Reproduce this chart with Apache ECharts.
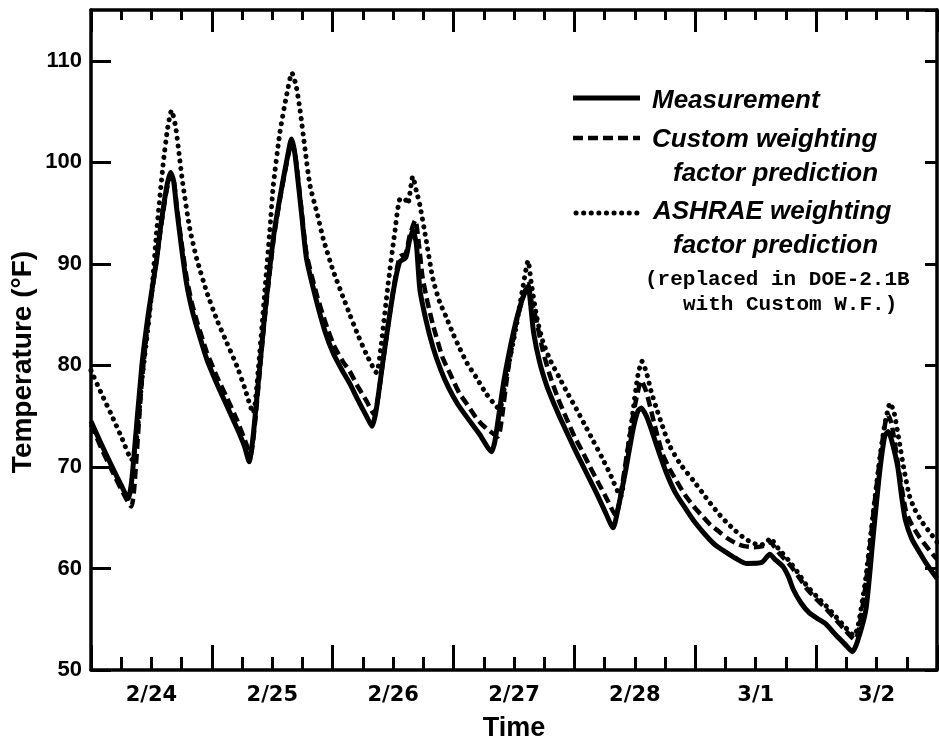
<!DOCTYPE html>
<html>
<head>
<meta charset="utf-8">
<script src="https://cdn.jsdelivr.net/npm/echarts@6/dist/echarts.min.js"></script>
<style>
html, body { margin: 0; padding: 0; background: #fff; }
#chart { width: 939px; height: 747px; }
</style>
</head>
<body>
<div id="chart"></div>
<script>
// hours from 2/24 00:00
const dayLabels = ['2/24', '2/25', '2/26', '2/27', '2/28', '3/1', '3/2']
const yTicks = [50, 60, 70, 80, 90, 100, 110]

const measHours = [0, 2, 4, 6, 7.4, 8.0, 8.4, 10.1, 11.5, 13, 13.7, 15, 15.8, 16.4, 17, 18, 19, 20, 21, 23, 25, 27, 29, 30.5, 31.4,
    32.3, 34.3, 36.2, 37.5, 39, 39.8, 40.5, 41.8, 42.8, 44.8, 46.5, 48.1, 50, 51.4, 53, 54.7, 55.8,
    56.6, 58, 60, 61.3, 62.5, 63.2, 63.9, 64.6, 65.3, 66.5, 67.9, 69.5, 71, 72.8, 74.5, 77.2, 79.5,
    80.2, 82, 84, 85.5, 86.8, 87.3, 87.9, 89.1, 90.5, 91.7, 93, 94.4, 96, 97.5, 99, 100.5, 102, 103.7,
    104.5, 106.3, 107.6, 108.6, 109.3, 110.3, 111.2, 112.2, 114.2, 116, 118.2, 120, 122.2, 124, 126.1, 128, 130.1,
    133.2, 134.8, 135.8, 137.4, 138.5, 139.4, 141, 142.7, 144.5, 146, 148, 149.8, 151.2,
    152.2, 153.9, 155.2, 156.5, 157.6, 158.3, 159, 160.2, 161, 161.7, 163, 164.4, 166, 168]
const measTemp = [74.5, 72.3, 70.2, 68.2, 66.9, 68.3, 70.3, 80, 85.5, 90.3, 93.2, 97.5, 99.0, 98.2, 95.5, 91.5, 88, 85.6, 83.8, 80.6, 78.2, 76, 73.8, 72, 70.5,
    73.5, 84, 92.5, 96.5, 100.5, 102.3, 100.8, 95, 90.5, 86.3, 83.3, 81.2, 79.4, 78.2, 76.6, 75, 74.0,
    75.5, 80.5, 87.2, 90.2, 90.6, 92.2, 93.3, 92, 87.5, 84.5, 81.8, 79.5, 77.8, 76.2, 75, 73.2, 71.5,
    72.5, 78.5, 83.5, 86.3, 87.8, 86, 83.2, 80.3, 78, 76.5, 75, 73.5, 71.8, 70.3, 68.8, 67.3, 65.7, 64.0,
    65.5, 70, 73.6, 75.5, 75.8, 75.0, 73.8, 72.3, 69.5, 67.5, 65.8, 64.5, 63.2, 62.3, 61.6, 61.0, 60.5,
    60.6, 61.4, 60.9, 60.2, 59.2, 58.0, 56.6, 55.6, 55.0, 54.5, 53.4, 52.5, 51.8,
    52.8, 56.0, 62.5, 69.0, 73.0, 73.5, 72.6, 70.0, 67, 64.8, 62.9, 61.7, 60.4, 59.0]

const customHours = [0, 2, 4, 6, 8.0, 8.6, 10.1, 11.5, 13, 14, 15, 15.9, 16.5, 17, 18, 19, 20, 21, 23, 25, 27, 29, 30.5, 31.7,
    32.5, 34.3, 36.2, 37.5, 39, 39.9, 40.6, 41.8, 42.8, 44.8, 46.5, 48.2, 50, 51.4, 53, 54.7, 56.2,
    57, 58, 60, 61.3, 62.5, 63.3, 64.4, 65.1, 65.8, 66.8, 67.9, 69.8, 71.2, 73.1, 74.5, 76.4, 77.8, 80.8,
    81.5, 82.8, 84.6, 86.8, 87.4, 88.4, 89.7, 91, 92.7, 94.4, 96, 97.5, 99, 101, 102.7, 104.2,
    105, 106.5, 108, 109.3, 110.2, 111, 112.2, 113.5, 114.9, 116.3, 118, 119.7, 121.5, 123, 124.8, 126.3, 128, 129.7, 131.7,
    133.4, 134.9, 135.6, 136.5, 138.7, 140.5, 142, 144, 146, 148, 149.8, 151.7,
    152.5, 154, 155.5, 157, 158.2, 159, 160.5, 161.8, 163, 164.5, 166.5, 168]
const customTemp = [74.2, 71.9, 69.8, 67.8, 66.1, 68, 78.5, 85, 90.3, 94, 97.2, 98.8, 98, 95.8, 92, 88.6, 86.2, 84.4, 81.3, 78.9, 76.8, 74.6, 72.7, 71.2,
    74, 83.7, 92.2, 96.3, 100.3, 102.0, 100.6, 95.3, 91, 87, 84.3, 82.0, 80.4, 79.4, 77.9, 76.5, 75.2,
    76.8, 80.5, 87.3, 90.7, 91.0, 92.8, 94.3, 92, 88.8, 86.3, 84.0, 80.8, 79.3, 77.3, 76.3, 74.9, 74.1, 73.0,
    74.5, 79.5, 84.5, 88.0, 86.5, 84.5, 81.5, 79.2, 76.8, 74.8, 73, 71.6, 70.1, 68.2, 66.6, 65.2,
    66.7, 71.5, 76, 78.5, 77.5, 76, 73.6, 71.3, 69.8, 68.6, 67.2, 66.1, 65.1, 64.3, 63.6, 63.0, 62.5, 62.2, 62.1,
    62.2, 62.6, 62.2, 61.6, 60.4, 59.2, 58.1, 57, 56, 54.9, 53.9, 53.0,
    54, 59, 66, 72, 75.2, 74.2, 69.5, 65.7, 64.3, 63.1, 61.8, 60.9]

const ashraeHours = [0, 2, 4, 6, 8.1, 9, 10.1, 11.5, 12.2, 13, 14.3, 15.2, 16.0, 16.8, 17.5, 18.2, 19.6, 21, 23, 25, 27, 29, 30.5, 32.2,
    33.2, 34.3, 35.5, 36.2, 37.5, 38.8, 39.9, 40.7, 41.5, 42.5, 43.5, 45, 46.1, 48.1, 50, 51.4, 53, 54.7, 56.7,
    57.5, 59, 60.3, 61.4, 62.3, 62.9, 63.9, 64.6, 65.3, 66.5, 67.9, 69.2, 70.5, 72, 73.1, 74.7, 76.4, 78.5, 81.1,
    82.4, 84.4, 85.7, 86.8, 87.4, 88.5, 89.7, 91.3, 93, 94.7, 96.4, 98, 99.7, 101.5, 103, 105.2,
    106, 107.5, 108.6, 109.4, 110.3, 111.2, 112.2, 113.5, 114.9, 117, 119.7, 121.5, 123, 124.8, 126.3, 128, 129.7, 131.4, 133,
    134, 135, 135.8, 136.6, 138.7, 140.5, 142, 144, 146, 148, 149.8, 151.5,
    152.3, 153.7, 155, 156.3, 157.5, 158.7, 159.5, 160.5, 161.5, 162.5, 163.5, 165, 166.5, 168]
const ashraeTemp = [79.5, 77.3, 75.2, 73, 70.7, 72.5, 78.5, 84.5, 88, 93, 99.7, 103.3, 105.1, 103.5, 100.8, 98, 93.5, 90.5, 87.2, 84.5, 82.2, 79.9, 77.8, 75.3,
    79.5, 86, 93.2, 97.7, 102.9, 106.5, 108.8, 107.6, 105.2, 101.3, 97.7, 94.8, 92.5, 89.3, 86.8, 85.0, 83, 81.1, 79.3,
    81.5, 88, 93, 96.4, 96.4, 95.9, 98.6, 97.2, 95.8, 92.5, 88.5, 86.3, 84.8, 83, 81.8, 80.2, 78.9, 77.2, 75.7,
    78.8, 83.7, 87.5, 90.3, 88.2, 84.8, 82.4, 80.4, 78.8, 77.2, 75.7, 74.2, 72.6, 70.9, 69.4, 67.1,
    69.5, 75, 79, 80.4, 79.3, 77.5, 75.9, 74, 72.1, 70.3, 68.6, 67.4, 66.4, 65.3, 64.5, 63.7, 63.0, 62.5, 62.3,
    62.5, 63.0, 62.4, 61.9, 60.7, 59.5, 58.4, 57.3, 56.3, 55.2, 54.2, 53.4,
    54.3, 58.5, 64, 69.5, 73.8, 76.3, 75.3, 72.5, 69.6, 67.2, 65.9, 64.6, 63.6, 62.6]

const legendLines = ['Measurement', 'Custom weighting', 'factor prediction', 'ASHRAE weighting', 'factor prediction']
const noteLines = ['(replaced in DOE-2.1B', 'with Custom W.F.)']

const sans = '"Liberation Sans", Arial, sans-serif'
const wide = '"DejaVu Sans", "Liberation Sans", sans-serif'
const mono = '"Liberation Mono", "DejaVu Sans Mono", monospace'

function zip(xs, ys) {
    return xs.map((x, i) => [x, ys[i]])
}

const chart = echarts.init(document.getElementById('chart'))

function frameAxis(extra) {
    return Object.assign({
        type: 'value',
        min: 0,
        max: 168,
        interval: 24,
        axisLine: { show: true, onZero: false, lineStyle: { color: '#000', width: 3.5 } },
        axisTick: { show: true, inside: true, length: 25, lineStyle: { color: '#000', width: 3 } },
        minorTick: { show: true, splitNumber: 4, length: 13, lineStyle: { color: '#000', width: 3 } },
        axisLabel: { show: false },
        splitLine: { show: false },
        minorSplitLine: { show: false },
    }, extra)
}

const option = {
    animation: false,
    backgroundColor: '#fff',
    grid: { left: 91, right: 2, top: 10, bottom: 72, containLabel: false },
    xAxis: [
        frameAxis({ position: 'bottom' }),
        {
            type: 'category',
            position: 'bottom',
            data: dayLabels,
            boundaryGap: true,
            axisLine: { show: false },
            axisTick: { show: false },
            axisLabel: { margin: 15, color: '#000', fontSize: 21, fontWeight: 'bold', fontFamily: wide },
            name: 'Time',
            nameLocation: 'middle',
            nameGap: 45,
            nameTextStyle: { color: '#000', fontSize: 27, fontWeight: 'bold', fontFamily: sans },
        },
        frameAxis({
            position: 'top',
            axisTick: { show: true, inside: true, length: 22, lineStyle: { color: '#000', width: 3 } },
            minorTick: { show: true, splitNumber: 4, length: 10, lineStyle: { color: '#000', width: 3 } },
        }),
    ],
    yAxis: [
        {
            type: 'value',
            position: 'left',
            min: 50,
            max: 115,
            interval: 10,
            axisLine: { show: true, onZero: false, lineStyle: { color: '#000', width: 3.5 } },
            axisTick: { show: true, inside: true, length: 20, lineStyle: { color: '#000', width: 3 } },
            axisLabel: {
                margin: 9,
                color: '#000',
                fontSize: 22,
                fontWeight: 'bold',
                fontFamily: sans,
                showMaxLabel: false,
                formatter: v => (yTicks.indexOf(v) >= 0 ? String(v) : ''),
            },
            splitLine: { show: false },
        },
        {
            type: 'value',
            position: 'right',
            min: 50,
            max: 115,
            interval: 10,
            axisLine: { show: true, onZero: false, lineStyle: { color: '#000', width: 3.5 } },
            axisTick: { show: true, inside: true, length: 12, lineStyle: { color: '#000', width: 3 } },
            axisLabel: { show: false },
            splitLine: { show: false },
        },
    ],
    series: [
        {
            name: 'ASHRAE',
            type: 'line',
            xAxisIndex: 0,
            yAxisIndex: 0,
            data: zip(ashraeHours, ashraeTemp),
            symbol: 'none',
            smooth: 0.2,
            lineStyle: { color: '#000', width: 5, type: [0.1, 7.5], cap: 'round' },
            z: 2,
        },
        {
            name: 'Custom',
            type: 'line',
            xAxisIndex: 0,
            yAxisIndex: 0,
            data: zip(customHours, customTemp),
            symbol: 'none',
            smooth: 0.2,
            lineStyle: { color: '#000', width: 4.5, type: [10, 5] },
            z: 3,
        },
        {
            name: 'Measurement',
            type: 'line',
            xAxisIndex: 0,
            yAxisIndex: 0,
            data: zip(measHours, measTemp),
            symbol: 'none',
            smooth: 0.2,
            lineStyle: { color: '#000', width: 5, join: 'round' },
            z: 4,
        },
    ],
    graphic: [
        {
            type: 'text', x: 23, y: 362, rotation: Math.PI / 2,
            style: { text: 'Temperature (°F)', font: 'bold 28px ' + sans, fill: '#000',
                textAlign: 'center', align: 'center', textVerticalAlign: 'middle', verticalAlign: 'middle' },
        },
        { type: 'line', shape: { x1: 573, y1: 98, x2: 640, y2: 98 }, style: { stroke: '#000', lineWidth: 5 } },
        { type: 'line', shape: { x1: 573, y1: 138, x2: 640, y2: 138 }, style: { stroke: '#000', lineWidth: 4.5, lineDash: [10, 5] } },
        { type: 'line', shape: { x1: 576, y1: 213, x2: 640, y2: 213 }, style: { stroke: '#000', lineWidth: 5, lineDash: [0.1, 7.5], lineCap: 'round' } },
    ].concat([
        [652, 101, 0], [652, 140, 1], [673, 174, 2], [653, 212, 3], [673, 246, 4],
    ].map(p => ({
        type: 'text', x: p[0], y: p[1],
        style: { text: legendLines[p[2]], font: 'italic bold 26px ' + sans, fill: '#000',
            textAlign: 'left', align: 'left', textVerticalAlign: 'middle', verticalAlign: 'middle' },
    }))).concat([
        [645, 280, 0], [683, 305, 1],
    ].map(p => ({
        type: 'text', x: p[0], y: p[1],
        style: { text: noteLines[p[2]], font: 'bold 21px ' + mono, fill: '#000',
            textAlign: 'left', align: 'left', textVerticalAlign: 'middle', verticalAlign: 'middle' },
    }))),
}

chart.setOption(option)
</script>
</body>
</html>
